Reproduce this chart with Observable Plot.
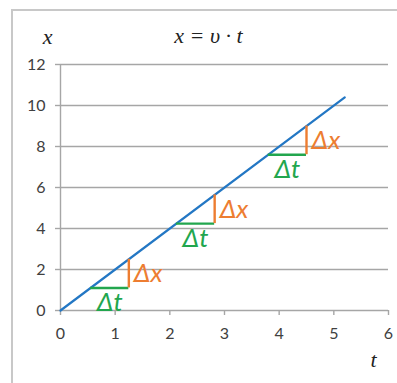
<!DOCTYPE html>
<html>
<head>
<meta charset="utf-8">
<script src="https://cdn.jsdelivr.net/npm/d3@7"></script>
<script src="https://cdn.jsdelivr.net/npm/@observablehq/plot@0.6"></script>
<style>
  html, body { margin: 0; padding: 0; background: #fff; }
  #wrap { position: relative; width: 397px; height: 383px; overflow: hidden; }
  #box { position: absolute; left: 11px; top: 9px; right: -4px; bottom: -4px;
         border-top: 2px solid #c8c8c8; border-left: 2px solid #c8c8c8; }
  #chart { position: absolute; left: 0; top: 0; }
</style>
</head>
<body>
<div id="wrap"><div id="box"></div><div id="chart"></div></div>
<script>
// Axis ticks
const timeTicks = [0, 1, 2, 3, 4, 5, 6];
const posTicks = [0, 2, 4, 6, 8, 10, 12];

// Uniform motion x = v·t (v = 2)
const lineT = [0, 5.2];
const lineX = [0, 10.4];

// Step triangles: start on the line, move Δt right, then Δx up back to the line
const stepStartT = [0.55, 2.12, 3.8];
const stepStartX = [1.1, 4.24, 7.6];
const stepEndT = [1.25, 2.82, 4.5];
const stepEndX = [2.5, 5.64, 9.0];

const titleText = "x = υ · t";
const yLabel = "x";
const xLabel = "t";
const dxLabel = "Δx";
const dtLabel = "Δt";

const blue = "#2377c4";
const orange = "#ed7d31";
const green = "#22a64e";
const gridColor = "#a6a6a6";

const lineData = lineT.map((t, i) => ({t, x: lineX[i]}));
const steps = stepStartT.map((t0, i) => ({
  t0, x0: stepStartX[i], t1: stepEndT[i], x1: stepEndX[i]
}));

const mathFont = "'Liberation Serif', 'DejaVu Serif', serif";
const deltaFont = "Lato, 'Open Sans', sans-serif";

const chart = Plot.plot({
  width: 397,
  height: 383,
  marginLeft: 60,
  marginRight: 9,
  marginTop: 64,
  marginBottom: 73,
  style: {fontFamily: "Lato, 'Open Sans', sans-serif", background: "transparent", overflow: "visible"},
  x: {domain: [0, 6]},
  y: {domain: [0, 12]},
  marks: [
    Plot.gridY(posTicks, {stroke: gridColor, strokeOpacity: 1, strokeWidth: 1.4}),
    Plot.ruleX([0], {stroke: gridColor, strokeWidth: 1.4}),
    Plot.axisY(posTicks, {tickSize: 5, tickPadding: 10, stroke: gridColor, strokeWidth: 1.4,
                          fill: "#404040", fontSize: 16, label: null}),
    Plot.axisX(timeTicks, {tickSize: 5, tickPadding: 12, stroke: gridColor, strokeWidth: 1.4,
                           fill: "#404040", fontSize: 16, label: null}),
    Plot.line(lineData, {x: "t", y: "x", stroke: blue, strokeWidth: 2.2}),
    Plot.ruleY(steps, {y: "x0", x1: "t0", x2: "t1", stroke: green, strokeWidth: 2.4}),
    Plot.ruleX(steps, {x: "t1", y1: "x0", y2: "x1", stroke: orange, strokeWidth: 2.4}),
    Plot.text(steps, {x: "t1", y: d => (d.x0 + d.x1) / 2, text: () => dxLabel,
                      textAnchor: "start", dx: 5, fill: orange, fontSize: 26,
                      fontStyle: "italic", fontFamily: deltaFont}),
    Plot.text(steps, {x: d => (d.t0 + d.t1) / 2, y: "x0", text: () => dtLabel,
                      lineAnchor: "top", dy: 5, fill: green, fontSize: 26,
                      fontStyle: "italic", fontFamily: deltaFont}),
    Plot.text([titleText], {frameAnchor: "top", text: d => d, lineAnchor: "bottom",
                            dx: -16, dy: -22, fontSize: 22, fontStyle: "italic",
                            fontFamily: mathFont, fill: "#222"}),
    Plot.text([yLabel], {frameAnchor: "top-left", text: d => d, lineAnchor: "bottom",
                         textAnchor: "middle", dx: -13, dy: -21, fontSize: 22,
                         fontStyle: "italic", fontFamily: mathFont, fill: "#222"}),
    Plot.text([xLabel], {frameAnchor: "bottom-right", text: d => d, lineAnchor: "bottom",
                         textAnchor: "middle", dx: -15, dy: 56, fontSize: 22,
                         fontStyle: "italic", fontFamily: mathFont, fill: "#222"})
  ]
});
document.getElementById("chart").appendChild(chart);
</script>
</body>
</html>
